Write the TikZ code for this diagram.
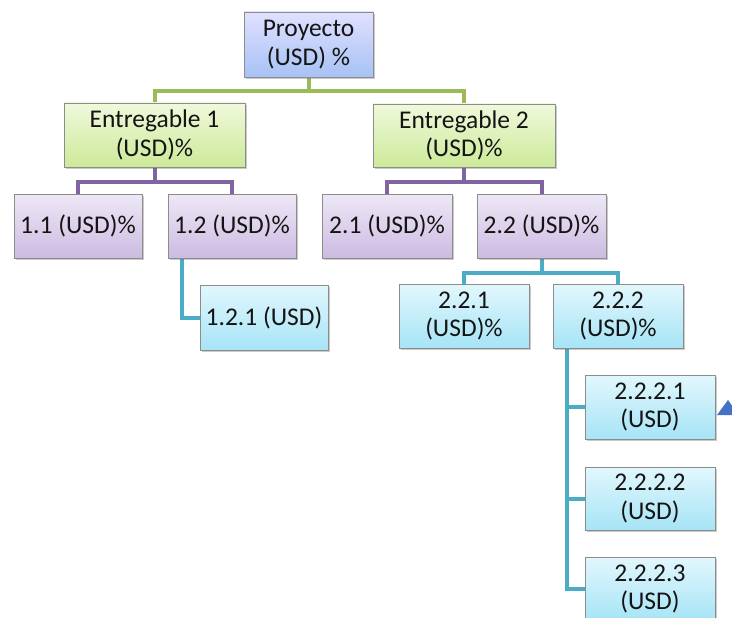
\documentclass[tikz,border=0pt]{standalone}
\usepackage{fontspec}
\setmainfont{Carlito}
\usetikzlibrary{calc,shadows,backgrounds}

\definecolor{bdr}{HTML}{8C8C8C}
\definecolor{lnGreen}{HTML}{9BBB59}
\definecolor{lnPurple}{HTML}{8064A2}
\definecolor{lnCyan}{HTML}{4BACC6}
\definecolor{arrowBlue}{HTML}{4472C4}

\tikzset{
  box/.style={draw=bdr, line width=0.8pt, rectangle, inner sep=2pt,
    align=center, font=\fontsize{25.5}{28.5}\selectfont, text=black!92,
    drop shadow={shadow xshift=1.5pt, shadow yshift=-1.8pt, opacity=0.35, fill=black!60}},
  topbox/.style={box, top color=blue!12!white, bottom color={rgb,255:red,166;green,194;blue,244}},
  greenbox/.style={box, top color={rgb,255:red,240;green,249;blue,220}, bottom color={rgb,255:red,204;green,233;blue,152}},
  purplebox/.style={box, top color={rgb,255:red,238;green,232;blue,246}, bottom color={rgb,255:red,204;green,187;blue,225}},
  cyanbox/.style={box, top color={rgb,255:red,226;green,247;blue,253}, bottom color={rgb,255:red,166;green,228;blue,246}},
  conn/.style={line width=4pt, line join=miter, line cap=butt},
  gconn/.style={conn, draw=lnGreen},
  pconn/.style={conn, draw=lnPurple},
  cconn/.style={conn, draw=lnCyan},
}

\begin{document}
\begin{tikzpicture}[x=1pt, y=-1pt]
  \useasboundingbox (0,0) rectangle (732,618);
  \clip (0,0) rectangle (732,618);

  % level 0
  \node[topbox, minimum width=129pt, minimum height=65pt] (P) at (308.5,44.5) {Proyecto\\(USD) \%};

  % deliverables
  \node[greenbox, minimum width=181pt, minimum height=64pt] (E1) at (154.5,135) {Entregable 1\\(USD)\%};
  \node[greenbox, minimum width=182pt, minimum height=63pt] (E2) at (464,135.5) {Entregable 2\\(USD)\%};

  % second level
  \node[purplebox, minimum width=128pt, minimum height=64pt] (A11) at (78,226) {1.1 (USD)\%};
  \node[purplebox, minimum width=128pt, minimum height=64pt] (A12) at (232,226) {1.2 (USD)\%};
  \node[purplebox, minimum width=130pt, minimum height=64pt] (A21) at (387,226) {2.1 (USD)\%};
  \node[purplebox, minimum width=129pt, minimum height=64pt] (A22) at (541.5,226) {2.2 (USD)\%};

  % third level
  \node[cyanbox, minimum width=128pt, minimum height=65pt] (B121) at (264,317.5) {1.2.1 (USD)};
  \node[cyanbox, minimum width=130pt, minimum height=64pt] (B221) at (464,316) {2.2.1\\(USD)\%};
  \node[cyanbox, minimum width=130pt, minimum height=64pt] (B222) at (618,316) {2.2.2\\(USD)\%};

  % fourth level
  \node[cyanbox, minimum width=130pt, minimum height=64pt] (C1) at (650,407) {2.2.2.1\\(USD)};
  \node[cyanbox, minimum width=130pt, minimum height=63pt] (C2) at (650,498.5) {2.2.2.2\\(USD)};
  \node[cyanbox, minimum width=130pt, minimum height=64pt] (C3) at (650,589) {2.2.2.3\\(USD)};

  % connectors behind the boxes
  \begin{scope}[on background layer]
    \draw[gconn] (P.south) -- ++(0,14) -| (E1.north);
    \draw[gconn] (P.south) -- ++(0,14) -| (E2.north);

    \draw[pconn] (E1.south) -- ++(0,15) -| (A11.north);
    \draw[pconn] (E1.south) -- ++(0,15) -| (A12.north);
    \draw[pconn] (E2.south) -- ++(0,15) -| (A21.north);
    \draw[pconn] (E2.south) -- ++(0,15) -| (A22.north);

    \draw[cconn] ($(A12.south west)+(14,0)$) |- (B121.west);
    \draw[cconn] (A22.south) -- ++(0,15) -| (B221.north);
    \draw[cconn] (A22.south) -- ++(0,15) -| (B222.north);

    \draw[cconn] ($(B222.south west)+(14,0)$) |- (C1.west);
    \draw[cconn] ($(B222.south west)+(14,0)$) |- (C2.west);
    \draw[cconn] ($(B222.south west)+(14,0)$) |- (C3.west);
  \end{scope}

  % partial arrow shape at the right edge
  \fill[arrowBlue] (717,415) -- (728,400) -- (735,410) -- (735,415) -- cycle;
\end{tikzpicture}
\end{document}
